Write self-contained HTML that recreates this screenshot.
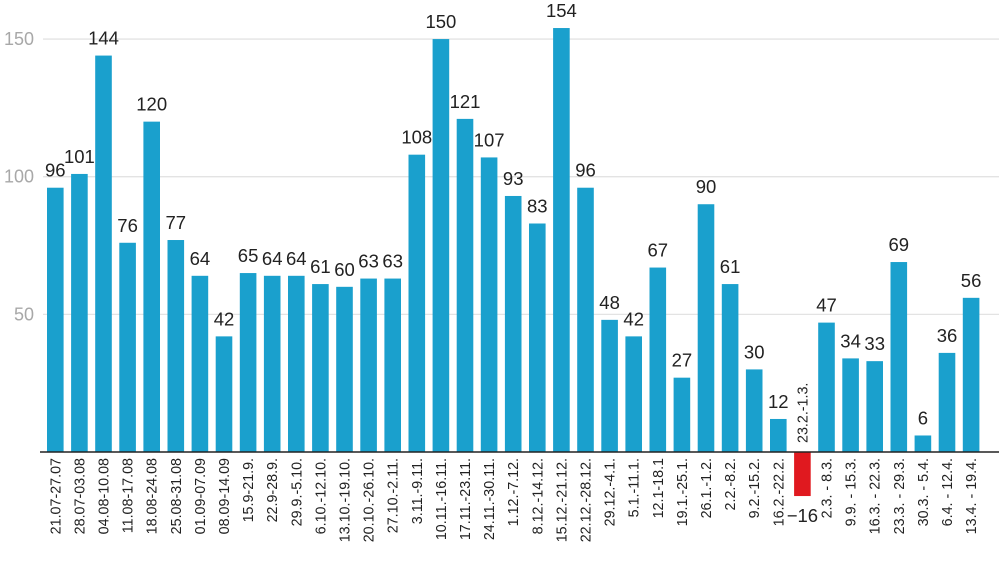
<!DOCTYPE html><html><head><meta charset="utf-8"><style>body{margin:0;background:#fff}svg{display:block}</style></head><body>
<svg id="c" width="999" height="572" xmlns="http://www.w3.org/2000/svg" font-family="Liberation Sans, sans-serif"></svg>
<script>
const v=[96,101,144,76,120,77,64,42,65,64,64,61,60,63,63,108,150,121,107,93,83,154,96,48,42,67,27,90,61,30,12,-16,47,34,33,69,6,36,56];
const l=["21.07-27.07","28.07-03.08","04.08-10.08","11.08-17.08","18.08-24.08","25.08-31.08","01.09-07.09","08.09-14.09","15.9-21.9.","22.9-28.9.","29.9.-5.10.","6.10.-12.10.","13.10.-19.10.","20.10.-26.10.","27.10.-2.11.","3.11.-9.11.","10.11.-16.11.","17.11.-23.11.","24.11.-30.11.","1.12.-7.12.","8.12.-14.12.","15.12.-21.12.","22.12.-28.12.","29.12.-4.1.","5.1.-11.1.","12.1-18.1","19.1.-25.1.","26.1.-1.2.","2.2.-8.2.","9.2.-15.2.","16.2.-22.2.","23.2.-1.3.","2.3. - 8.3.","9.9. - 15.3.","16.3. - 22.3.","23.3. - 29.3.","30.3. - 5.4.","6.4. - 12.4.","13.4. - 19.4."];
const Y0=452,k=2.753;let s='';
[50,100,150].forEach(t=>{const y=Y0-t*k;s+=`<line x1="43" x2="999" y1="${y}" y2="${y}" stroke="#e3e3e3" stroke-width="1.3"/><text x="34" y="${y+6}" text-anchor="end" font-size="18" fill="#a8a8a8">${t}</text>`;});
v.forEach((d,i)=>{const x=47+i*24.1,cx=x+8.3;
if(d>=0){const h=d*k;s+=`<rect x="${x}" y="${Y0-h}" width="16.6" height="${h}" fill="#1aa0cd"/><text x="${cx}" y="${Y0-h-11}" text-anchor="middle" font-size="18.5" fill="#222">${d}</text>`;
s+=`<text transform="translate(${cx+5},458) rotate(-90)" text-anchor="end" font-size="14.3" fill="#222">${l[i]}</text>`;}
else{const h=-d*k;s+=`<rect x="${x}" y="${Y0}" width="16.6" height="${h}" fill="#e0191f"/><text x="${cx}" y="${Y0+h+26}" text-anchor="middle" font-size="18.5" fill="#222">−16</text>`;
s+=`<text transform="translate(${cx+5},443) rotate(-90)" text-anchor="start" font-size="14.3" fill="#222">${l[i]}</text>`;}});
s+=`<line x1="40" x2="999" y1="${Y0}" y2="${Y0}" stroke="#222" stroke-width="1.5"/>`;
document.getElementById('c').innerHTML=s;
</script></body></html>
